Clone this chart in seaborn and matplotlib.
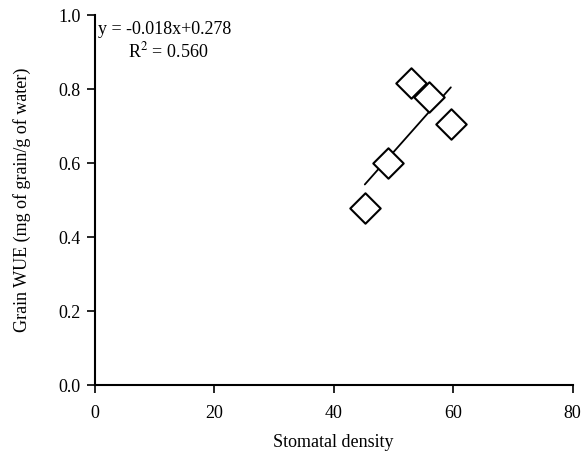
import numpy as np
import pandas as pd
import matplotlib
matplotlib.use("Agg")
import matplotlib.pyplot as plt
import seaborn as sns

# Data
stomatal_density = [45.2, 49.0, 52.9, 55.9, 59.6]
grain_wue = [0.478, 0.600, 0.816, 0.780, 0.705]
x_ticks = [0, 20, 40, 60, 80]
y_ticks = [0.0, 0.2, 0.4, 0.6, 0.8, 1.0]

data = pd.DataFrame({'Stomatal density': stomatal_density, 'Grain WUE': grain_wue})

sns.set_style("ticks")
plt.rcParams['font.family'] = ['Liberation Serif', 'DejaVu Serif']
plt.rcParams['mathtext.fontset'] = 'stix'
plt.rcParams['text.color'] = 'black'
plt.rcParams['axes.labelcolor'] = 'black'

fig = plt.figure(figsize=(5.85, 4.58), dpi=100)
ax = fig.add_axes([0.162, 0.159, 0.817, 0.808])

# regression line
sns.regplot(data=data, x='Stomatal density', y='Grain WUE', scatter=False, ci=None,
            truncate=True, color='black', line_kws={'linewidth': 1.3}, ax=ax)
# open diamonds
sns.scatterplot(data=data, x='Stomatal density', y='Grain WUE', marker='D', s=240,
                facecolor='white', edgecolor='black', linewidth=1.5, zorder=3, ax=ax)

ax.set_xlim(0, 80)
ax.set_ylim(0, 1.0)
ax.set_xticks(x_ticks)
ax.set_yticks(y_ticks)
ax.set_xticklabels([str(t) for t in x_ticks], fontsize=13)
ax.set_yticklabels([f"{t:.1f}" for t in y_ticks], fontsize=13)
ax.tick_params(direction='out', length=6, width=1.2, colors='black')
ax.tick_params(axis='x', pad=8)
ax.tick_params(axis='y', pad=4)
for s in ['left', 'bottom']:
    ax.spines[s].set_linewidth(1.5)
    ax.spines[s].set_color('black')
sns.despine(ax=ax)

ax.set_xlabel('Stomatal density', fontsize=13, labelpad=9)
ax.set_ylabel('Grain WUE (mg of grain/g of water)', fontsize=13, labelpad=20)

ax.text(0.5, 0.985, 'y = -0.018x+0.278', fontsize=13, va='top', ha='left')
ax.text(5.6, 0.93, r'R$^{2}$ = 0.560', fontsize=13, va='top', ha='left')

fig.savefig('out.png', dpi=100)
